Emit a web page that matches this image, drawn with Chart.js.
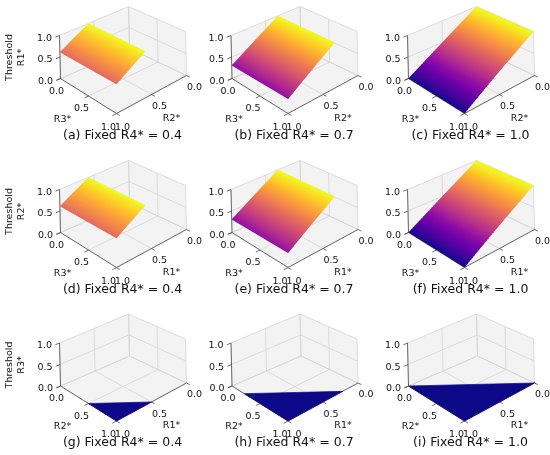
<!DOCTYPE html>
<html>
<head>
<meta charset="utf-8">
<style>
  html, body { margin: 0; padding: 0; background: #fff; }
  #wrap { width: 550px; height: 455px; }
</style>
<script src="https://cdn.jsdelivr.net/npm/chart.js@4.4.1/dist/chart.umd.min.js"></script>
</head>
<body>
<div id="wrap"><canvas id="chart" width="550" height="455"></canvas></div>
<script>
// Dados
const fixedR4 = [0.4, 0.7, 1.0];
const panelLetters = [['a', 'b', 'c'], ['d', 'e', 'f'], ['g', 'h', 'i']];
const thresholdNames = ['R1*', 'R2*', 'R3*'];
const leftAxisNames = ['R3*', 'R3*', 'R2*'];
const rightAxisNames = ['R2*', 'R1*', 'R1*'];
const tickValues = [0, 0.5, 1.0];
const tickLabels = ['0.0', '0.5', '1.0'];
// linhas 1 e 2: plano inclinado
const planeTopAt = [0.58, 0.32, 0.0];     // valor do eixo direito onde o limiar chega a 1.0
const planeLowValue = [0.61, 0.3, 0.0];   // limiar quando o eixo direito = 1.0
// linha 3: regiao plana (limiar 0)
const floorFrom = [0.5, 0.22, 0.0];

// layout (pixels)
const cols = [60.5, 232, 408.5];
const rows = [78.5, 232.5, 386];
const box = {
    B0: [69, -30], L0: [0, 0], R0: [126, -3], F0: [56, 35],
    B1: [68, -72], L1: [-1, -43], R1: [125, -47], F1: [56, -13]
};
const plasmaStops = ['#0d0887', '#41049d', '#6a00a8', '#8f0da4', '#b12a90', '#cc4778',
    '#e16462', '#f2844b', '#fca636', '#fcce25', '#f0f921'];

function hexToRgb(h) {
    return [parseInt(h.slice(1, 3), 16), parseInt(h.slice(3, 5), 16), parseInt(h.slice(5, 7), 16)];
}

function plasma(t) {
    t = Math.max(0, Math.min(1, t));
    const s = t * (plasmaStops.length - 1);
    const i = Math.min(Math.floor(s), plasmaStops.length - 2);
    const f = s - i;
    const a = hexToRgb(plasmaStops[i]), b = hexToRgb(plasmaStops[i + 1]);
    const c = a.map((v, k) => Math.round(v + (b[k] - v) * f));
    return `rgb(${c[0]},${c[1]},${c[2]})`;
}

// projecao 3D -> 2D (trilinear nos cantos da caixa)
function project(ox, oy, u, v, z) {
    const w00 = (1 - u) * (1 - v), w01 = (1 - u) * v, w10 = u * (1 - v), w11 = u * v;
    const bx = w00 * box.B0[0] + w01 * box.L0[0] + w10 * box.R0[0] + w11 * box.F0[0];
    const by = w00 * box.B0[1] + w01 * box.L0[1] + w10 * box.R0[1] + w11 * box.F0[1];
    const tx = w00 * box.B1[0] + w01 * box.L1[0] + w10 * box.R1[0] + w11 * box.F1[0];
    const ty = w00 * box.B1[1] + w01 * box.L1[1] + w10 * box.R1[1] + w11 * box.F1[1];
    return { x: ox + bx + z * (tx - bx), y: oy + by + z * (ty - by) };
}

function poly(pts, color, order, border) {
    return {
        data: [...pts, pts[0]], borderColor: color, backgroundColor: color,
        borderWidth: border, fill: 'shape', pointRadius: 0, order: order
    };
}

function seg(pts, color, width, order) {
    return { data: pts, borderColor: color, borderWidth: width, fill: false, pointRadius: 0, order: order };
}

const datasets = [];
const texts = [];

for (let r = 0; r < 3; r++) {
    for (let c = 0; c < 3; c++) {
        const ox = cols[c], oy = rows[r];
        const P = (u, v, z) => project(ox, oy, u, v, z);

        // paineis
        datasets.push(poly([P(0, 0, 0), P(0, 1, 0), P(1, 1, 0), P(1, 0, 0)], '#f3f3f3', 5, 0));
        datasets.push(poly([P(0, 0, 0), P(0, 1, 0), P(0, 1, 1), P(0, 0, 1)], '#f3f3f3', 5, 0));
        datasets.push(poly([P(0, 0, 0), P(1, 0, 0), P(1, 0, 1), P(0, 0, 1)], '#f3f3f3', 5, 0));

        // grade
        const grid = '#d4d4d4';
        tickValues.forEach(t => {
            datasets.push(seg([P(t, 0, 0), P(t, 1, 0)], grid, 0.8, 4));
            datasets.push(seg([P(0, t, 0), P(1, t, 0)], grid, 0.8, 4));
            datasets.push(seg([P(0, t, 0), P(0, t, 1)], grid, 0.8, 4));
            datasets.push(seg([P(0, 0, t), P(0, 1, t)], grid, 0.8, 4));
            datasets.push(seg([P(t, 0, 0), P(t, 0, 1)], grid, 0.8, 4));
            datasets.push(seg([P(0, 0, t), P(1, 0, t)], grid, 0.8, 4));
        });

        // eixos e marcas
        const axis = '#4a4a4a';
        datasets.push(seg([P(0, 1, 0), P(0, 1, 1)], axis, 0.8, 3));
        datasets.push(seg([P(0, 1, 0), P(1, 1, 0)], axis, 0.8, 3));
        datasets.push(seg([P(1, 0, 0), P(1, 1, 0)], axis, 0.8, 3));
        tickValues.forEach(t => {
            datasets.push(seg([P(0, 1, t), P(0, 1.06, t)], axis, 0.8, 3));
            datasets.push(seg([P(t, 1, 0), P(t, 1.06, 0)], axis, 0.8, 3));
            datasets.push(seg([P(1, t, 0), P(1.06, t, 0)], axis, 0.8, 3));
        });

        // superficie (faixas sobrepostas para evitar emendas)
        if (r < 2) {
            const top = planeTopAt[c], low = planeLowValue[c];
            const N = 40;
            const zAt = v => 1 + (low - 1) * (v - top) / (1 - top);
            for (let k = 0; k < N; k++) {
                const v0 = top + (1 - top) * k / N;
                const v1 = Math.min(1, top + (1 - top) * (k + 1.6) / N);
                const col = plasma(zAt(top + (1 - top) * (k + 0.5) / N));
                datasets.push(poly([P(0, v0, zAt(v0)), P(1, v0, zAt(v0)), P(1, v1, zAt(v1)), P(0, v1, zAt(v1))], col, 1, 0));
            }
        } else {
            const s = floorFrom[c];
            datasets.push(poly([P(s, 1, 0), P(1, 1, 0), P(1, s, 0)], plasma(0), 1, 0.7));
        }

        // textos
        const small = '9.5px "DejaVu Sans"';
        tickValues.forEach((t, i) => {
            const pz = P(0, 1, t);
            texts.push({ x: pz.x - 15, y: pz.y + 3, s: tickLabels[i], font: small });
        });
        const uOff = [[-4, 13], [-7, 13], [-8, 14]];
        const vOff = [[8, 12], [8, 12.5], [6, 14]];
        tickValues.forEach((t, i) => {
            const pu = P(t, 1, 0);
            texts.push({ x: pu.x + uOff[i][0], y: pu.y + uOff[i][1], s: tickLabels[i], font: small });
            const pv = P(1, t, 0);
            texts.push({ x: pv.x + vOff[i][0], y: pv.y + vOff[i][1], s: tickLabels[i], font: small });
        });
        const ml = P(0.5, 1, 0), mr = P(1, 0.5, 0);
        texts.push({ x: ml.x - 26, y: ml.y + 23.5, s: leftAxisNames[r], font: small });
        texts.push({ x: mr.x + 20, y: mr.y + 24, s: rightAxisNames[r], font: small });
        texts.push({
            x: ox + 62, y: oy + 57,
            s: `(${panelLetters[r][c]}) Fixed R4* = ${fixedR4[c].toFixed(1)}`,
            font: '12.5px "DejaVu Sans"'
        });
        if (c === 0) {
            texts.push({ x: 10, y: oy - 21, s: 'Threshold', font: small, rot: true });
            texts.push({ x: 22, y: oy - 21, s: thresholdNames[r], font: small, rot: true });
        }
    }
}

const textPlugin = {
    id: 'panelText',
    afterDraw(chart) {
        const ctx = chart.ctx;
        const xs = chart.scales.x, ys = chart.scales.y;
        ctx.save();
        ctx.fillStyle = '#111';
        ctx.textAlign = 'center';
        ctx.textBaseline = 'middle';
        texts.forEach(t => {
            ctx.font = t.font;
            const px = xs.getPixelForValue(t.x), py = ys.getPixelForValue(t.y);
            if (t.rot) {
                ctx.save();
                ctx.translate(px, py);
                ctx.rotate(-Math.PI / 2);
                ctx.fillText(t.s, 0, 0);
                ctx.restore();
            } else {
                ctx.fillText(t.s, px, py);
            }
        });
        ctx.restore();
    }
};

new Chart(document.getElementById('chart').getContext('2d'), {
    type: 'line',
    data: { datasets: datasets },
    options: {
        responsive: false,
        animation: false,
        events: [],
        layout: { padding: 0 },
        elements: { line: { tension: 0 } },
        scales: {
            x: { type: 'linear', min: 0, max: 550, display: false },
            y: { type: 'linear', min: 0, max: 455, reverse: true, display: false }
        },
        plugins: {
            legend: { display: false },
            tooltip: { enabled: false }
        }
    },
    plugins: [textPlugin]
});
</script>
</body>
</html>
